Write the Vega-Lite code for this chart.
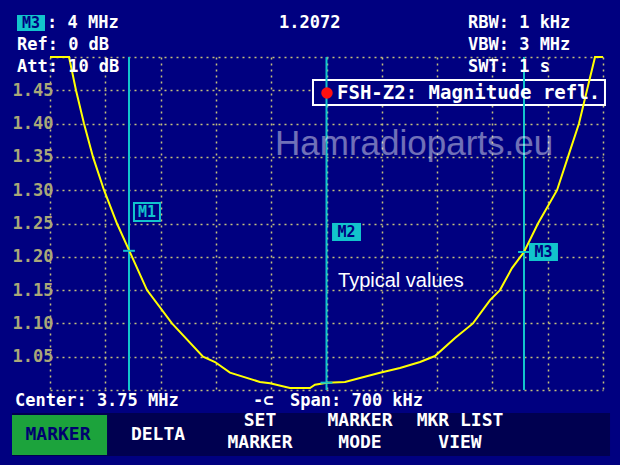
{
  "$schema": "https://vega.github.io/schema/vega-lite/v6.json",
  "width": 553,
  "height": 333,
  "autosize": "none",
  "padding": {"left": 50, "top": 57, "right": 17, "bottom": 75},
  "background": "#000080",
  "config": {
    "view": {"stroke": null},
    "axis": {"grid": true, "gridColor": "#c4c07c", "gridDash": [2, 4], "gridWidth": 1.5, "gridOpacity": 1,
      "ticks": false, "domain": false, "title": null, "labelOverlap": false},
    "axisX": {"labels": false},
    "axisY": {"labelPadding": -3, "labelColor": "#aaa878", "labelFont": "DejaVu Sans Mono",
      "labelFontWeight": "bold", "labelFontSize": 17}
  },
  "datasets": {
    "trace": [
      {"f": 3.4000, "v": 1.500}, {"f": 3.4241, "v": 1.500}, {"f": 3.4329, "v": 1.450},
      {"f": 3.4430, "v": 1.400}, {"f": 3.4544, "v": 1.350}, {"f": 3.4684, "v": 1.300},
      {"f": 3.4848, "v": 1.250}, {"f": 3.5000, "v": 1.210}, {"f": 3.5228, "v": 1.150},
      {"f": 3.5544, "v": 1.100}, {"f": 3.5937, "v": 1.050}, {"f": 3.6089, "v": 1.042},
      {"f": 3.6278, "v": 1.026}, {"f": 3.6658, "v": 1.012}, {"f": 3.6785, "v": 1.010},
      {"f": 3.7038, "v": 1.003}, {"f": 3.7291, "v": 1.003}, {"f": 3.7354, "v": 1.008},
      {"f": 3.7506, "v": 1.011}, {"f": 3.7734, "v": 1.012}, {"f": 3.7924, "v": 1.018},
      {"f": 3.8177, "v": 1.026}, {"f": 3.8430, "v": 1.033}, {"f": 3.8684, "v": 1.042},
      {"f": 3.8873, "v": 1.051}, {"f": 3.9127, "v": 1.078}, {"f": 3.9354, "v": 1.100},
      {"f": 3.9570, "v": 1.135}, {"f": 3.9696, "v": 1.150}, {"f": 3.9848, "v": 1.183},
      {"f": 4.0000, "v": 1.2072}, {"f": 4.0177, "v": 1.250}, {"f": 4.0418, "v": 1.300},
      {"f": 4.0557, "v": 1.350}, {"f": 4.0696, "v": 1.400}, {"f": 4.0797, "v": 1.450},
      {"f": 4.0899, "v": 1.500}, {"f": 4.1000, "v": 1.500}
    ],
    "markers": [
      {"name": "M1", "f": 3.50, "v": 1.209},
      {"name": "M2", "f": 3.75, "v": 1.011},
      {"name": "M3", "f": 4.00, "v": 1.2072}
    ]
  },
  "encoding": {
    "x": {"field": "f", "type": "quantitative", "title": null,
      "scale": {"domain": [3.4, 4.1], "nice": false, "zero": false},
      "axis": {"values": [3.4, 3.47, 3.54, 3.61, 3.68, 3.75, 3.82, 3.89, 3.96, 4.03, 4.1],
        "grid": true, "labels": false, "title": null}},
    "y": {"field": "v", "type": "quantitative", "title": null,
      "scale": {"domain": [1.0, 1.5], "nice": false, "zero": false},
      "axis": {"values": [1.0, 1.05, 1.1, 1.15, 1.2, 1.25, 1.3, 1.35, 1.4, 1.45, 1.5],
        "grid": true, "title": null,
        "labelExpr": "datum.value < 1.01 || datum.value > 1.49 ? '' : format(datum.value, '.2f')"}}
  },
  "layer": [
    {
      "data": {"values": [{"f": 3.3519, "f2": 4.1089, "v": 0.9655, "v2": 0.9009}]},
      "mark": {"type": "rect", "fill": "#000050"},
      "encoding": {"x2": {"field": "f2"}, "y2": {"field": "v2"}}
    },
    {
      "data": {"values": [{"f": 3.3519, "f2": 3.4722, "v": 0.9625, "v2": 0.9024}]},
      "mark": {"type": "rect", "fill": "#1ca33c"},
      "encoding": {"x2": {"field": "f2"}, "y2": {"field": "v2"}}
    },
    {
      "data": {"values": [{"f": 3.7329, "f2": 4.1025, "v": 1.4655, "v2": 1.4279}]},
      "mark": {"type": "rect", "fill": "#000080", "stroke": "#ffffff", "strokeWidth": 2},
      "encoding": {"x2": {"field": "f2"}, "y2": {"field": "v2"}}
    },
    {
      "data": {"name": "markers"},
      "mark": {"type": "rule", "color": "#12c4cc", "strokeWidth": 2},
      "encoding": {"y": {"datum": 1.5, "type": "quantitative"}, "y2": {"datum": 1.0}}
    },
    {
      "data": {"name": "trace"},
      "mark": {"type": "line", "color": "#ffff00", "strokeWidth": 2},
      "encoding": {}
    },
    {
      "data": {"name": "markers"},
      "mark": {"type": "point", "shape": "M-1,0L1,0", "size": 140, "filled": false, "stroke": "#12c4cc", "strokeWidth": 2, "opacity": 1},
      "encoding": {}
    },
    {
      "data": {"values": [
        {"f": 3.3582, "f2": 3.3937, "v": 1.5631, "v2": 1.5390},
        {"f": 3.7570, "f2": 3.7937, "v": 1.2508, "v2": 1.2237},
        {"f": 4.0063, "f2": 4.0430, "v": 1.2207, "v2": 1.1937}
      ]},
      "mark": {"type": "rect", "fill": "#12c4cc"},
      "encoding": {"x2": {"field": "f2"}, "y2": {"field": "v2"}}
    },
    {
      "data": {"values": [{"f": 3.5063, "f2": 3.5392, "v": 1.2808, "v2": 1.2538}]},
      "mark": {"type": "rect", "fill": "#000080", "stroke": "#12c4cc", "strokeWidth": 2},
      "encoding": {"x2": {"field": "f2"}, "y2": {"field": "v2"}}
    },
    {
      "data": {"values": [
        {"t": "M3", "f": 3.3759, "v": 1.5511},
        {"t": "M2", "f": 3.7753, "v": 1.2372},
        {"t": "M3", "f": 4.0247, "v": 1.2072}
      ]},
      "mark": {"type": "text", "font": "DejaVu Sans Mono", "fontWeight": "bold", "fontSize": 15, "color": "#000080", "align": "center", "baseline": "middle"},
      "encoding": {"text": {"field": "t"}}
    },
    {
      "data": {"values": [{"t": "M1", "f": 3.5228, "v": 1.2673}]},
      "mark": {"type": "text", "font": "DejaVu Sans Mono", "fontWeight": "bold", "fontSize": 15, "color": "#12c4cc", "align": "center", "baseline": "middle"},
      "encoding": {"text": {"field": "t"}}
    },
    {
      "data": {"values": [
        {"t": ": 4 MHz", "f": 3.3962, "v": 1.5511},
        {"t": "Ref: 0 dB", "f": 3.3582, "v": 1.5180},
        {"t": "Att: 10 dB", "f": 3.3582, "v": 1.4850},
        {"t": "1.2072", "f": 3.6899, "v": 1.5511},
        {"t": "RBW: 1 kHz", "f": 3.9291, "v": 1.5511},
        {"t": "VBW: 3 MHz", "f": 3.9291, "v": 1.5180},
        {"t": "SWT: 1 s", "f": 3.9291, "v": 1.4850},
        {"t": "Center: 3.75 MHz", "f": 3.3557, "v": 0.9835},
        {"t": "-⊂", "f": 3.6570, "v": 0.9835},
        {"t": "Span: 700 kHz", "f": 3.7038, "v": 0.9835}
      ]},
      "mark": {"type": "text", "font": "DejaVu Sans Mono", "fontWeight": "bold", "fontSize": 17, "color": "#ffffff", "align": "left", "baseline": "middle"},
      "encoding": {"text": {"field": "t"}}
    },
    {
      "data": {"values": [{"f": 3.7506, "v": 1.446}]},
      "mark": {"type": "point", "shape": "circle", "size": 130, "filled": true, "color": "#ff1010", "opacity": 1},
      "encoding": {}
    },
    {
      "data": {"values": [{"t": "FSH-Z2: Magnitude refl.", "f": 3.7633, "v": 1.446}]},
      "mark": {"type": "text", "font": "DejaVu Sans Mono", "fontWeight": "bold", "fontSize": 19, "color": "#ffffff", "align": "left", "baseline": "middle"},
      "encoding": {"text": {"field": "t"}}
    },
    {
      "data": {"values": [
        {"t": "DELTA", "f": 3.5367, "v": 0.9324},
        {"t": "SET", "f": 3.6658, "v": 0.9535},
        {"t": "MARKER", "f": 3.6658, "v": 0.9204},
        {"t": "MARKER", "f": 3.7924, "v": 0.9535},
        {"t": "MODE", "f": 3.7924, "v": 0.9204},
        {"t": "MKR LIST", "f": 3.9190, "v": 0.9535},
        {"t": "VIEW", "f": 3.9190, "v": 0.9204}
      ]},
      "mark": {"type": "text", "font": "DejaVu Sans Mono", "fontWeight": "bold", "fontSize": 18, "color": "#ffffff", "align": "center", "baseline": "middle"},
      "encoding": {"text": {"field": "t"}}
    },
    {
      "data": {"values": [{"t": "MARKER", "f": 3.4101, "v": 0.9324}]},
      "mark": {"type": "text", "font": "DejaVu Sans Mono", "fontWeight": "bold", "fontSize": 18, "color": "#000070", "align": "center", "baseline": "middle"},
      "encoding": {"text": {"field": "t"}}
    },
    {
      "data": {"values": [{"t": "Typical values", "f": 3.7646, "v": 1.1547}]},
      "mark": {"type": "text", "font": "Liberation Sans", "fontSize": 20, "color": "#ffffff", "align": "left", "baseline": "alphabetic"},
      "encoding": {"text": {"field": "t"}}
    },
    {
      "data": {"values": [{"t": "Hamradioparts.eu", "f": 3.6848, "v": 1.3529}]},
      "mark": {"type": "text", "font": "Liberation Sans", "fontSize": 35, "color": "#ffffff", "opacity": 0.44, "align": "left", "baseline": "alphabetic"},
      "encoding": {"text": {"field": "t"}}
    }
  ]
}
